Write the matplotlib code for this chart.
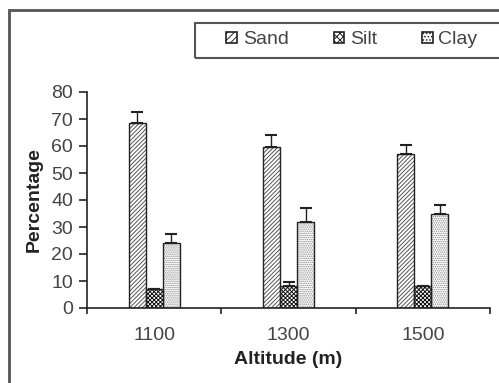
import numpy as np
import matplotlib
matplotlib.use("Agg")
import matplotlib.pyplot as plt
from matplotlib.patches import Rectangle

# data
altitudes = ["1100", "1300", "1500"]
sand = [68.5, 59.5, 57.0]
sand_err = [4.0, 4.5, 3.5]
silt = [7.0, 8.0, 8.0]
silt_err = [0.0, 1.5, 0.0]
clay = [24.0, 32.0, 35.0]
clay_err = [3.5, 5.0, 3.0]

plt.rcParams["font.family"] = ["Liberation Sans", "DejaVu Sans"]
plt.rcParams["hatch.linewidth"] = 0.7

txt = "#444444"

fig = plt.figure(figsize=(4.99, 3.83), dpi=100)
ax = fig.add_axes([87 / 499, 75 / 383, 403 / 499, 216 / 383])

x = np.arange(len(altitudes))
w = 0.127
series = [
    ("Sand", sand, sand_err, -w, "////////", "#555555"),
    ("Silt", silt, silt_err, 0.0, "xxxxxxxx", "#111111"),
    ("Clay", clay, clay_err, w, "........", "#888888"),
]
handles = []
for name, vals, err, off, hatch, hc in series:
    ax.bar(x + off, vals, w, color="white", edgecolor=hc, hatch=hatch,
           linewidth=0, label=name, zorder=2)
    ax.bar(x + off, vals, w, fill=False, edgecolor="#222222", linewidth=1.0, zorder=3)
    ax.errorbar(x + off, vals, yerr=[np.zeros(len(vals)), err], fmt="none",
                ecolor="#222222", elinewidth=1.0, capsize=4, capthick=1.5, zorder=4)
    handles.append(Rectangle((0, 0), 1, 1, facecolor="white", edgecolor="#222222",
                             hatch=hatch[:5], linewidth=1.2))

ax.set_xlim(-0.5, 2.5)
ax.set_ylim(0, 80)
ax.set_yticks(np.arange(0, 81, 10))
ax.set_xticks(x)
ax.set_xticklabels(altitudes)
ax.set_xticks([-0.5, 0.5, 1.5, 2.5], minor=True)
ax.tick_params(axis="x", which="major", length=0, pad=14, labelsize=14, labelcolor=txt)
ax.tick_params(axis="x", which="minor", length=4, width=1.2, direction="out", color="#222222")
ax.tick_params(axis="y", length=6, width=1.2, direction="out", labelsize=14,
               labelcolor=txt, color="#222222", pad=4)
for s in ["top", "right"]:
    ax.spines[s].set_visible(False)
for s in ["left", "bottom"]:
    ax.spines[s].set_linewidth(1.2)
    ax.spines[s].set_color("#222222")

ax.set_ylabel("Percentage", fontsize=14, fontweight="bold", color="#222222", labelpad=6)
ax.set_xlabel("Altitude (m)", fontsize=14, fontweight="bold", color="#222222", labelpad=5)

# outer chart frame (cut off at right and bottom like the reference)
fig.patches.append(Rectangle((9 / 499, -0.1), 1.2, (383 - 10) / 383 + 0.1,
                             transform=fig.transFigure, fill=False,
                             edgecolor="#555555", linewidth=2))
# legend box
fig.patches.append(Rectangle((195 / 499, (383 - 58) / 383), 0.7, 35 / 383,
                             transform=fig.transFigure, fill=False,
                             edgecolor="#555555", linewidth=1.5))
fig.legend(handles, [s[0] for s in series], loc="center",
           bbox_to_anchor=(352 / 499, 1 - 40 / 383), ncol=3, frameon=False,
           fontsize=14, handlelength=0.55, handleheight=0.55, handletextpad=0.3,
           columnspacing=2.3, labelcolor=txt)

fig.savefig("out.png", dpi=100)
